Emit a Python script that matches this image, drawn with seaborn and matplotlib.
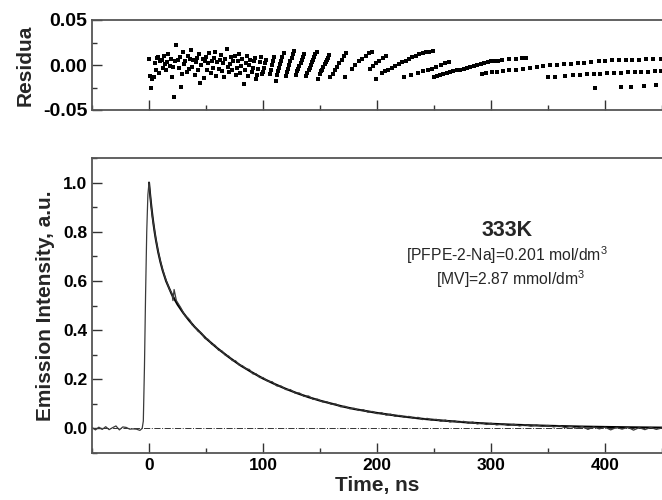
import matplotlib
matplotlib.use("Agg")
import matplotlib.pyplot as plt
from matplotlib.ticker import MultipleLocator
import pandas as pd
import seaborn as sns

# ── measured decay (time in ns, normalised intensity) ──
MEAS_TIME = [-50, -47, -44, -41, -38, -35, -32, -29, -26, -23, -20, -17, -14, -11, -8, -6,
             -5, -4, -3, -2, -1, 0, 1, 2, 3, 4, 5, 6, 8, 10, 12, 14, 16, 18, 20, 21, 22, 24,
             26, 28, 30, 32, 34, 36, 38, 40, 43, 46, 49, 52, 55, 58, 61, 64, 67, 70, 73, 76,
             79, 82, 85, 88, 91, 94, 97, 100, 104, 108, 112, 116, 120, 124, 128, 132, 136,
             140, 144, 148, 152, 156, 160, 164, 168, 172, 176, 180, 184, 188, 192, 196, 200,
             204, 208, 212, 216, 220, 224, 228, 232, 236, 240, 244, 248, 252, 256, 260, 264,
             268, 272, 276, 280, 284, 288, 292, 296, 300, 305, 310, 315, 320, 325, 330, 335,
             340, 345, 350, 355, 360, 365, 370, 375, 380, 385, 390, 395, 400, 405, 410, 415,
             420, 425, 430, 435, 440, 445, 450]
MEAS_VALUE = [0.004, -0.006, 0.005, -0.004, 0.007, -0.005, 0.003, 0.010, -0.006, 0.006, 0.004,
              -0.003, -0.002, -0.003, -0.008, 0.000,
              0.03, 0.25, 0.55, 0.80, 0.95, 1.00, 0.95, 0.90, 0.86, 0.83, 0.80, 0.77, 0.72,
              0.68, 0.645, 0.615, 0.59, 0.565, 0.55, 0.52, 0.565, 0.52,
              0.505, 0.49, 0.472, 0.455, 0.45, 0.44, 0.42, 0.415, 0.395, 0.388, 0.366, 0.362,
              0.342, 0.338, 0.318, 0.315, 0.297, 0.294, 0.276, 0.275,
              0.258, 0.255, 0.242, 0.240, 0.222, 0.222, 0.207, 0.207, 0.192, 0.190, 0.173,
              0.172, 0.158, 0.158, 0.144, 0.144, 0.130,
              0.132, 0.118, 0.119, 0.108, 0.108, 0.098, 0.099, 0.088, 0.090, 0.080, 0.082,
              0.073, 0.076, 0.066, 0.069, 0.060,
              0.064, 0.054, 0.058, 0.049, 0.053, 0.045, 0.049, 0.041, 0.045, 0.036, 0.041,
              0.033, 0.037, 0.029, 0.034, 0.026,
              0.031, 0.024, 0.029, 0.021, 0.026, 0.018, 0.023, 0.016, 0.021, 0.014, 0.019,
              0.012, 0.017, 0.010, 0.015, 0.009,
              0.014, 0.008, 0.012, 0.006, 0.011, 0.003, 0.009, 0.000, 0.008, -0.004, 0.006,
              -0.002, 0.005, -0.006, 0.004, -0.003,
              0.005, -0.007, 0.003, -0.005, 0.004, -0.004, 0.002]

# ── fitted curve ──
FIT_TIME = [0, 1, 2, 3, 4, 5, 6, 8, 10, 12, 15, 20, 25, 30, 35, 40, 45, 50, 60, 70, 80, 90,
            100, 110, 120, 130, 140, 150, 160, 170, 180, 190, 200, 220, 240, 260, 280, 300,
            320, 340, 360, 380, 400, 420, 450]
FIT_VALUE = [1.0, 0.950, 0.905, 0.865, 0.829, 0.797, 0.768, 0.718, 0.677, 0.642, 0.599,
             0.545, 0.504, 0.470, 0.440, 0.413, 0.390, 0.366, 0.326, 0.290, 0.257, 0.229,
             0.203, 0.181, 0.161, 0.143, 0.127, 0.113, 0.101, 0.089, 0.079, 0.071, 0.063,
             0.050, 0.039, 0.031, 0.024, 0.019, 0.015, 0.012, 0.0096, 0.0075, 0.006, 0.0047,
             0.0033]

# ── residuals ──
RES_TIME = [0, 1, 2, 3, 4, 5, 6, 7, 8, 9, 10, 11, 12, 13, 14, 15, 16, 17, 18, 19, 20, 21,
            22, 23, 24, 25, 26, 27, 28, 29, 30, 31, 32, 33, 34, 35, 36, 37, 38, 39, 40, 41,
            42, 43, 44, 45, 46, 47, 48, 49, 50, 51, 52, 53, 54, 55, 56, 57, 58, 59, 60, 61,
            62, 63, 64, 65, 66, 67, 68, 69, 70, 71, 72, 73, 74, 75, 76, 77, 78, 79, 80, 81,
            82, 83, 84, 85, 86, 87, 88, 89, 90, 91, 92, 93, 94, 95, 96, 97, 98, 99,
            100, 101, 102, 103, 106, 107, 108, 109, 110, 111, 112, 113, 114, 115, 116, 117,
            118, 120, 121, 122, 123, 124, 125, 126, 127, 129, 130, 131, 132, 133, 134, 135,
            136, 138, 139, 140, 141, 142, 143, 144, 145, 146, 147, 148, 150, 151, 152, 153,
            154, 155, 156, 157, 158, 159, 161, 163, 165, 167, 169, 171, 173, 171.5, 178, 181,
            184, 187, 190, 193, 196, 193.5, 196.5, 199, 202, 205, 208, 199.5, 204, 207, 210,
            213, 216, 219, 222, 225, 228, 231, 234, 237, 240, 243, 246, 249, 224, 230, 236,
            240.5, 244.5, 248.5, 252, 256, 260, 263, 250, 252.5, 255, 258, 261, 264, 267,
            270, 273, 276, 279, 282, 285, 288, 291, 294, 297, 300, 303, 306, 310, 316, 322,
            327, 331, 292, 296, 300.5, 305, 310.5, 316, 322, 328, 334, 340, 346, 352, 358,
            364, 370, 376, 382, 388, 395, 400, 406, 412, 418, 424, 430, 436, 442, 449,
            350, 356, 365, 372, 378, 384, 390, 396, 402, 408, 414, 420, 426, 432, 438, 444,
            449, 391, 414, 423, 434, 445]
RES_VALUE = [0.007, -0.012, -0.025, -0.015, -0.013, 0.002, -0.005, 0.008, 0.009, -0.009,
             0.004, 0.006, -0.003, 0.010, 0.001, -0.006, 0.003, 0.012, -0.001, 0.007, -0.013,
             -0.002, -0.036, 0.004, 0.022, 0.006, -0.003, 0.009, -0.024, -0.010, 0.015,
             0.001, 0.005, -0.008, 0.010, -0.004, 0.007, 0.017, -0.002, 0.006, -0.011, 0.003,
             0.008, -0.005, 0.012, -0.020, 0.000, 0.007, -0.014, 0.004, 0.009, -0.006, 0.002,
             0.013, -0.009, 0.005, -0.003, 0.008, 0.015, -0.012, 0.003, -0.004, 0.006, 0.011,
             -0.007, 0.002, -0.013, 0.007, 0.018, -0.002, -0.008, 0.001, 0.009, -0.005,
             0.004, 0.010, -0.011, -0.003, 0.005, 0.012, -0.009, -0.001, 0.007, -0.021,
             -0.006, 0.002, 0.010, -0.012, 0.000, 0.006, -0.008, -0.003, 0.004, 0.008,
             -0.016, -0.011, -0.004, 0.003, 0.009, -0.010,
             -0.008, -0.003, 0.002, 0.006, -0.010, -0.005, 0.000, 0.005, 0.009, -0.018,
             -0.011, -0.007, -0.003, 0.001, 0.005, 0.009, 0.013, -0.012, -0.008, -0.004,
             0.000, 0.004, 0.008, 0.012, 0.016, -0.011, -0.007, -0.004, -0.001, 0.002, 0.006,
             0.009, 0.012, -0.012, -0.009, -0.006, -0.003, 0.000, 0.003, 0.006, 0.009, 0.012,
             0.015, -0.016, -0.010, -0.007, -0.005, -0.002, 0.001, 0.003, 0.006, 0.008, 0.011,
             -0.013, -0.010, -0.006, -0.002, 0.002, 0.006, 0.010, 0.013, -0.013, -0.004,
             0.000, 0.004, 0.007, 0.010, 0.013, 0.015, -0.004, -0.001, 0.002, 0.005, 0.008,
             0.010, -0.016, -0.009, -0.007, -0.005, -0.003, -0.001, 0.001, 0.003, 0.005,
             0.007, 0.009, 0.010, 0.012, 0.013, 0.014, 0.015, 0.016, -0.013, -0.011, -0.009,
             -0.007, -0.006, -0.004, -0.002, 0.000, 0.002, 0.003, -0.013, -0.012, -0.011,
             -0.010, -0.009, -0.008, -0.007, -0.006, -0.005, -0.004, -0.003, -0.002, -0.001,
             0.000, 0.001, 0.002, 0.003, 0.004, 0.005, 0.005, 0.006, 0.007, 0.007, 0.008,
             0.008, -0.010, -0.009, -0.008, -0.0075, -0.007, -0.006, -0.005, -0.004, -0.003,
             -0.002, -0.001, -0.0005, 0.000, 0.001, 0.0015, 0.002, 0.0025, 0.003, 0.0045,
             0.005, 0.0052, 0.0055, 0.0057, 0.006, 0.006, 0.0062, 0.0062, 0.0063,
             -0.013, -0.013, -0.012, -0.0115, -0.011, -0.0105, -0.010, -0.0095, -0.009,
             -0.0088, -0.0085, -0.008, -0.0078, -0.0076, -0.0074, -0.0072, -0.007, -0.026,
             -0.024, -0.024, -0.023, -0.022]

BASELINE = 0.0
LABEL_TITLE = "333K"
LABEL_CONC1 = "[PFPE-2-Na]=0.201 mol/dm$^3$"
LABEL_CONC2 = "[MV]=2.87 mmol/dm$^3$"

sns.set_style("ticks")
plt.rcParams["font.family"] = ["Liberation Sans", "DejaVu Sans"]
plt.rcParams["mathtext.fontset"] = "custom"
plt.rcParams["mathtext.rm"] = "Liberation Sans"
plt.rcParams["axes.edgecolor"] = "#555555"
plt.rcParams["axes.linewidth"] = 1.3

meas = pd.DataFrame({"t": MEAS_TIME, "y": MEAS_VALUE})
fit = pd.DataFrame({"t": FIT_TIME, "y": FIT_VALUE})
res = pd.DataFrame({"t": RES_TIME, "r": RES_VALUE})

fig = plt.figure(figsize=(6.62, 5.0), dpi=100)
ax_r = fig.add_axes([0.139, 0.78, 0.861, 0.18])
ax = fig.add_axes([0.139, 0.094, 0.861, 0.59])

# ── residual panel ──
sns.scatterplot(data=res, x="t", y="r", ax=ax_r, color="black", marker="s",
                s=6, linewidth=0, legend=False)
ax_r.set_xlim(-50, 450)
ax_r.set_ylim(-0.05, 0.05)
ax_r.set_yticks([-0.05, 0.0, 0.05])
ax_r.set_yticklabels(["-0.05", "0.00", "0.05"])
ax_r.yaxis.set_minor_locator(MultipleLocator(0.025))
ax_r.xaxis.set_major_locator(MultipleLocator(100))
ax_r.xaxis.set_minor_locator(MultipleLocator(50))
ax_r.set_xticklabels([])
ax_r.set_xlabel("")
ax_r.set_ylabel("Residua", fontsize=15, fontweight="bold", labelpad=6)

# ── decay panel ──
ax.axhline(BASELINE, color="#333333", lw=0.7, ls="-.", zorder=1)
sns.lineplot(data=fit, x="t", y="y", ax=ax, color="black", lw=1.5,
             estimator=None, sort=False)
sns.lineplot(data=meas, x="t", y="y", ax=ax, color="#3a3a3a", lw=0.9,
             estimator=None, sort=False)
ax.set_xlim(-50, 450)
ax.set_ylim(-0.1, 1.1)
ax.xaxis.set_major_locator(MultipleLocator(100))
ax.xaxis.set_minor_locator(MultipleLocator(50))
ax.yaxis.set_major_locator(MultipleLocator(0.2))
ax.yaxis.set_minor_locator(MultipleLocator(0.1))
ax.set_xlabel("Time, ns", fontsize=15, fontweight="bold", labelpad=2)
ax.set_ylabel("Emission Intensity, a.u.", fontsize=15, fontweight="bold", labelpad=6)

ax.text(314, 0.805, LABEL_TITLE, ha="center", va="center", fontsize=15.5,
        fontweight="bold")
ax.text(314, 0.703, LABEL_CONC1, ha="center", va="center", fontsize=11.3)
ax.text(317, 0.607, LABEL_CONC2, ha="center", va="center", fontsize=11.3)

for a, size in ((ax_r, 14), (ax, 12.5)):
    a.spines["right"].set_visible(False)
    a.tick_params(which="both", direction="in", colors="#333333", labelcolor="black",
                  labelsize=size)
    a.tick_params(which="major", length=7.5, width=1.0)
    a.tick_params(which="minor", length=3.6, width=1.0)
    for lbl in a.get_xticklabels() + a.get_yticklabels():
        lbl.set_fontweight("bold")

fig.savefig("out.png", dpi=100)
